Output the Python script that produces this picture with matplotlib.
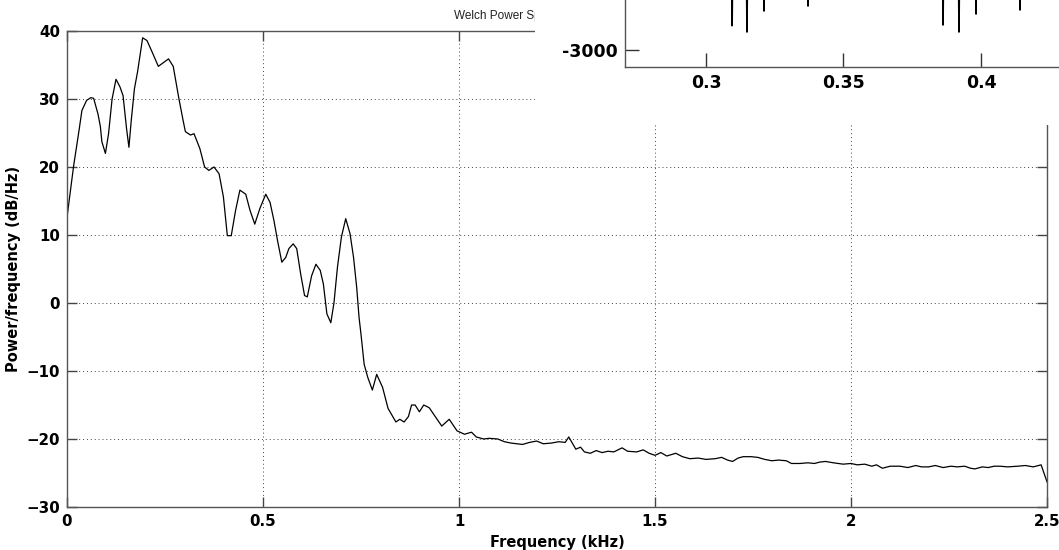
import matplotlib
matplotlib.use("Agg")
import matplotlib.pyplot as plt
from matplotlib.patches import Rectangle

# ---------------- data ----------------
freq_khz = [0.000, 0.017, 0.031, 0.038, 0.050, 0.061, 0.068, 0.079, 0.085, 0.089,
            0.098, 0.106, 0.115, 0.125, 0.135, 0.143, 0.152, 0.158, 0.164, 0.172,
            0.180, 0.193, 0.204, 0.218, 0.233, 0.259, 0.271, 0.285, 0.296, 0.302,
            0.315, 0.324, 0.339, 0.351, 0.362, 0.375, 0.388, 0.399, 0.409, 0.419,
            0.430, 0.441, 0.456, 0.467, 0.479, 0.492, 0.507, 0.518, 0.528, 0.537,
            0.548, 0.558, 0.566, 0.577, 0.586, 0.596, 0.606, 0.613, 0.624, 0.635,
            0.646, 0.654, 0.663, 0.673, 0.681, 0.690, 0.700, 0.711, 0.722, 0.731,
            0.739, 0.745, 0.750, 0.758, 0.767, 0.779, 0.790, 0.805, 0.819, 0.839,
            0.849, 0.860, 0.871, 0.879, 0.888, 0.899, 0.910, 0.924, 0.937, 0.956,
            0.975, 0.995, 1.014, 1.032, 1.044, 1.063, 1.077, 1.099, 1.116, 1.133,
            1.162, 1.180, 1.198, 1.215, 1.235, 1.255, 1.271, 1.280, 1.298, 1.310,
            1.320, 1.335, 1.350, 1.365, 1.380, 1.395, 1.416, 1.430, 1.453, 1.470,
            1.485, 1.500, 1.515, 1.530, 1.553, 1.570, 1.589, 1.610, 1.630, 1.653,
            1.670, 1.685, 1.698, 1.712, 1.725, 1.745, 1.762, 1.780, 1.798, 1.815,
            1.835, 1.848, 1.870, 1.890, 1.907, 1.920, 1.935, 1.955, 1.980, 2.000,
            2.016, 2.035, 2.053, 2.065, 2.080, 2.100, 2.125, 2.145, 2.165, 2.180,
            2.198, 2.215, 2.235, 2.255, 2.271, 2.290, 2.305, 2.316, 2.335, 2.350,
            2.365, 2.380, 2.400, 2.425, 2.445, 2.465, 2.485, 2.500]
psd_db = [12.6, 20.2, 25.5, 28.3, 29.8, 30.2, 30.1, 27.8, 26.0, 23.7,
          22.0, 24.9, 30.0, 32.9, 31.8, 30.5, 25.6, 22.9, 26.9, 31.5,
          34.0, 39.0, 38.6, 36.8, 34.8, 35.9, 34.8, 30.2, 26.9, 25.2,
          24.7, 24.9, 22.7, 20.0, 19.5, 20.0, 19.0, 15.6, 9.9, 9.9,
          13.6, 16.6, 16.0, 13.6, 11.6, 13.9, 16.0, 14.8, 12.1, 9.2,
          6.0, 6.7, 8.0, 8.7, 8.0, 4.3, 1.1, 0.9, 4.0, 5.7,
          4.8, 2.8, -1.6, -2.9, 0.0, 5.3, 9.7, 12.4, 10.2, 6.7,
          2.3, -2.1, -4.6, -9.0, -10.9, -12.8, -10.5, -12.4, -15.5, -17.5,
          -17.1, -17.5, -16.7, -15.0, -15.0, -16.0, -15.0, -15.4, -16.5, -18.1,
          -17.1, -18.8, -19.3, -19.0, -19.7, -20.0, -19.9, -20.0, -20.4, -20.6,
          -20.8, -20.5, -20.3, -20.7, -20.6, -20.4, -20.5, -19.7, -21.5, -21.2,
          -21.9, -22.1, -21.7, -22.0, -21.8, -21.9, -21.3, -21.8, -21.9, -21.6,
          -22.1, -22.4, -22.0, -22.5, -22.1, -22.6, -22.9, -22.8, -23.0, -22.9,
          -22.7, -23.1, -23.3, -22.8, -22.6, -22.6, -22.7, -23.0, -23.2, -23.1,
          -23.2, -23.6, -23.6, -23.5, -23.6, -23.4, -23.3, -23.5, -23.7, -23.6,
          -23.8, -23.7, -24.0, -23.8, -24.3, -24.0, -24.0, -24.2, -23.9, -24.1,
          -24.1, -23.9, -24.2, -24.0, -24.1, -24.0, -24.3, -24.4, -24.1, -24.2,
          -24.0, -24.0, -24.1, -24.0, -23.9, -24.1, -23.8, -26.3]

xticks_main = [0, 0.5, 1, 1.5, 2, 2.5]
xticklabels_main = ["0", "0.5", "1", "1.5", "2", "2.5"]
yticks_main = [-30, -20, -10, 0, 10, 20, 30, 40]

# inset (partially visible time-domain plot)
spike_t = [0.3095, 0.3149, 0.3211, 0.3371, 0.3862, 0.3920, 0.3982, 0.4142]
spike_min = [-2595, -2700, -2350, -2267, -2583, -2700, -2400, -2333]
inset_base = -1100
inset_xticks = [0.3, 0.35, 0.4]
inset_xticklabels = ["0.3", "0.35", "0.4"]
inset_yticks = [-3000]

# ---------------- figure ----------------
W, H = 1059, 550
fig = plt.figure(figsize=(W / 100, H / 100), dpi=100)
fig.patch.set_facecolor("white")

bold = dict(family="DejaVu Sans", weight="bold")

ax = fig.add_axes([67 / W, (H - 507) / H, (1047 - 67) / W, (507 - 31) / H])
ax.set_zorder(0)
ax.plot(freq_khz, psd_db, color="black", lw=0.9)
ax.set_xlim(0, 2.5)
ax.set_ylim(-30, 40)
ax.set_xticks(xticks_main)
ax.set_xticklabels(xticklabels_main)
ax.set_yticks(yticks_main)
ax.grid(True, color="#444444", linestyle=(0, (1, 3)), lw=0.7)
ax.tick_params(direction="in", top=True, right=True, length=7, width=1.0,
               color="#444444", labelsize=10.8, pad=5)
for lab in ax.get_xticklabels() + ax.get_yticklabels():
    lab.set_fontweight("bold")
    lab.set_family("DejaVu Sans")
for s in ax.spines.values():
    s.set_color("#555555")
    s.set_linewidth(1.0)
ax.set_xlabel("Frequency (kHz)", fontsize=10.5, labelpad=4, **bold)
ax.set_ylabel("Power/frequency (dB/Hz)", fontsize=10.5, labelpad=4, **bold)
ax.set_title("Welch Power Spectral Density Estimate", fontsize=8.5,
             family="Liberation Sans", color="#222222", pad=9)

# white patch covering top-right area
rect = Rectangle((535 / W, (H - 125) / H), 1 - 535 / W, 125 / H,
                 transform=fig.transFigure, facecolor="white", edgecolor="none",
                 zorder=1)
fig.add_artist(rect)

# inset axes, extending beyond the figure edges
top_px = -60
right_px = 1100
iax = fig.add_axes([625 / W, (H - 67) / H, (right_px - 625) / W, (67 - top_px) / H])
iax.set_zorder(2)
ix, iy = [0.27], [inset_base]
for t, m in zip(spike_t, spike_min):
    ix += [t - 0.0003, t, t + 0.0003]
    iy += [inset_base, m, inset_base]
ix.append(0.45)
iy.append(inset_base)
iax.plot(ix, iy, color="black", lw=1.2)
px_per_unit = 60 / 1000.0
ybot = -3000 - 17 / px_per_unit
ytop = ybot + (67 - top_px) / px_per_unit
x_per_px = 0.05 / 137.5
xleft = 0.3 - (706 - 625) * x_per_px
xright = xleft + (right_px - 625) * x_per_px
iax.set_xlim(xleft, xright)
iax.set_ylim(ybot, ytop)
iax.set_xticks(inset_xticks)
iax.set_xticklabels(inset_xticklabels)
iax.set_yticks(inset_yticks)
iax.set_yticklabels([str(v) for v in inset_yticks])
iax.tick_params(direction="in", length=10, width=1.0, labelsize=12.5, pad=5,
                color="#333333")
for lab in iax.get_xticklabels() + iax.get_yticklabels():
    lab.set_fontweight("bold")
    lab.set_family("DejaVu Sans")
for s in iax.spines.values():
    s.set_color("#555555")
    s.set_linewidth(1.0)

fig.savefig("out.png", dpi=100)
